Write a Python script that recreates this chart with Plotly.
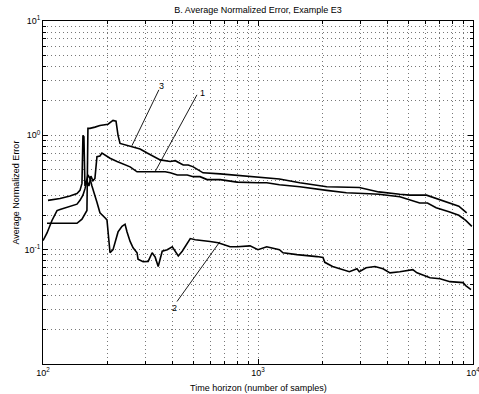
import plotly.graph_objects as go
import math

# ---- data ----
c1_x = [100, 104.4, 110.1, 116.2, 120, 133.5, 143.9, 148.6, 153.4, 156.7, 160.1, 163.5, 167.1, 170.7, 174.4,
        178.2, 184.0, 188.0, 194.2, 205.0, 221.0, 240.8, 254.2, 273.8, 298.6, 325.4, 339.7, 370.2, 390.7,
        421.3, 468.7, 499.9, 537.6, 579.6, 667.0, 799.5, 1000, 1098, 1258, 1565, 2088, 2578, 3289, 3646,
        4567, 5082, 5651, 6140, 6739, 7732, 8590, 9251, 9880]
c1_y = [0.12, 0.14, 0.18, 0.22, 0.225, 0.24, 0.25, 0.27, 0.30, 0.34, 0.40, 0.36, 0.44, 0.40, 0.42,
        0.65, 0.66, 0.70, 0.67, 0.63, 0.59, 0.55, 0.53, 0.48, 0.48, 0.48, 0.475, 0.48, 0.47,
        0.45, 0.45, 0.435, 0.435, 0.41, 0.41, 0.39, 0.385, 0.385, 0.37, 0.355, 0.33, 0.315, 0.308, 0.305,
        0.29, 0.273, 0.256, 0.256, 0.233, 0.215, 0.20, 0.18, 0.16]

c2_x = [105.5, 120, 133.5, 143.9, 148.6, 151.8, 153.4, 155.0, 156.7, 158.4, 161.8, 165.3, 168.9, 174.4, 178.2,
        184.0, 188.0, 194.2, 198.4, 205.0, 211.7, 223.4, 233.1, 240.8, 246.0, 254.2, 262.4, 273.8, 276.7,
        292.2, 308.4, 321.9, 332.5, 343.4, 358.5, 378.3, 399.2, 412.3, 425.9, 444.2, 458.7, 484.1, 510.8,
        537.6, 598.8, 652.8, 703.0, 741.4, 800, 918, 1000, 1098, 1258, 1307, 1518, 1746, 1881, 2006,
        2045, 2223, 2470, 2661, 2887, 2959, 3183, 3499, 3814, 4111, 4567, 5082, 5248, 5489, 6310, 7024,
        7817, 8985, 9251, 9788]
c2_y = [0.27, 0.28, 0.295, 0.31, 0.33, 0.38, 1.0, 0.97, 0.36, 0.38, 0.45, 0.42, 0.36, 0.30, 0.26,
        0.21, 0.20, 0.19, 0.182, 0.094, 0.10, 0.143, 0.16, 0.167, 0.143, 0.118, 0.104, 0.094, 0.0825,
        0.0785, 0.079, 0.094, 0.086, 0.0713, 0.097, 0.10, 0.106, 0.096, 0.088, 0.097, 0.106, 0.125, 0.122,
        0.121, 0.118, 0.115, 0.11, 0.106, 0.106, 0.108, 0.10, 0.106, 0.10, 0.094, 0.0905, 0.0887, 0.087, 0.0855,
        0.0775, 0.0713, 0.0668, 0.0642, 0.068, 0.0642, 0.0695, 0.0713, 0.068, 0.0627, 0.0642, 0.0655, 0.0668,
        0.0627, 0.0568, 0.0557, 0.0525, 0.0515, 0.0485, 0.0448]

c3_x = [104.4, 120, 143.9, 151.8, 158.4, 160.1, 161.8, 165.3, 174.4, 184.0, 200.6, 211.7, 218.6, 223.4,
        228.2, 233.1, 259.6, 282.8, 305.1, 315.1, 350.9, 390.7, 412.3, 449.0, 473.8, 499.9, 549.3, 555.2,
        667.0, 799.5, 944, 1098, 1258, 1565, 2088, 2959, 3289, 3646, 4567, 5082, 6076, 6739, 7732,
        8590, 9346]
c3_y = [0.17, 0.17, 0.17, 0.185, 0.21, 0.22, 1.15, 1.15, 1.18, 1.22, 1.25, 1.35, 1.33, 1.0,
        0.85, 0.84, 0.80, 0.76, 0.70, 0.68, 0.61, 0.59, 0.60, 0.55, 0.55, 0.53, 0.47, 0.47,
        0.46, 0.445, 0.435, 0.425, 0.415, 0.385, 0.355, 0.35, 0.334, 0.32, 0.305, 0.30, 0.30, 0.28, 0.256,
        0.24, 0.21]

labels = ["1", "2", "3"]
label_x = [549, 411, 357]
label_y = [2.35, 0.031, 2.70]
leader_start_x = [520, 420, 346]
leader_start_y = [2.26, 0.0352, 2.50]
leader_end_x = [332, 665, 259]
leader_end_y = [0.48, 0.1175, 0.81]

x_tickvals = [100, 1000, 10000]
x_ticktext = ["10<sup>2</sup>", "10<sup>3</sup>", "10<sup>4</sup>"]
y_tickvals = [0.1, 1, 10]
y_ticktext = ["10<sup>-1</sup>", "10<sup>0</sup>", "10<sup>1</sup>"]

title = "B. Average Normalized Error, Example E3"
xlabel = "Time horizon (number of samples)"
ylabel = "Average Normalized Error"

FONT = "Liberation Sans"

fig = go.Figure()
for xs, ys in [(c1_x, c1_y), (c2_x, c2_y), (c3_x, c3_y)]:
    fig.add_trace(go.Scatter(x=xs, y=ys, mode="lines",
                             line=dict(color="black", width=1.6), showlegend=False,
                             hoverinfo="skip"))

for i in range(3):
    fig.add_trace(go.Scatter(x=[leader_start_x[i], leader_end_x[i]],
                             y=[leader_start_y[i], leader_end_y[i]],
                             mode="lines", line=dict(color="black", width=0.9),
                             showlegend=False, hoverinfo="skip"))
    fig.add_annotation(x=math.log10(label_x[i]), y=math.log10(label_y[i]),
                       text=labels[i], showarrow=False,
                       font=dict(family=FONT, size=9, color="black"))

DOT = "1px,3px"
axis_common = dict(type="log", automargin=False,
                   ticks="inside", ticklen=5, tickcolor="black", tickwidth=1,
                   showline=True, linecolor="black", linewidth=1, mirror="ticks",
                   zeroline=False, ticklabeloverflow="allow",
                   tickfont=dict(family=FONT, size=9, color="black"),
                   showgrid=True, gridcolor="#777777", griddash=DOT, gridwidth=1,
                   minor=dict(dtick="D1", ticks="inside", ticklen=3, tickcolor="black",
                              showgrid=True, gridcolor="#777777", griddash=DOT, gridwidth=1))

fig.update_xaxes(range=[2, 4], tickvals=x_tickvals, ticktext=x_ticktext, **axis_common)
fig.update_yaxes(range=[-2, 1], tickvals=y_tickvals, ticktext=y_ticktext, **axis_common)

fig.add_annotation(text=xlabel, xref="paper", yref="paper", x=0.5, y=0,
                   yshift=-24, showarrow=False, yanchor="middle",
                   font=dict(family=FONT, size=9, color="black"))
fig.add_annotation(text=ylabel, xref="paper", yref="paper", x=0, y=0.5,
                   xshift=-28, showarrow=False, textangle=-90, xanchor="center",
                   font=dict(family=FONT, size=9, color="black"))

fig.update_layout(
    width=479, height=394,
    margin=dict(l=43, r=6, t=21, b=30, autoexpand=False),
    paper_bgcolor="white", plot_bgcolor="white",
    title=dict(text=title, x=0.5, xref="paper", xanchor="center",
               y=1 - 10 / 394, yref="container", yanchor="middle",
               font=dict(family=FONT, size=9, color="black")),
)

fig.write_html("out.html")
